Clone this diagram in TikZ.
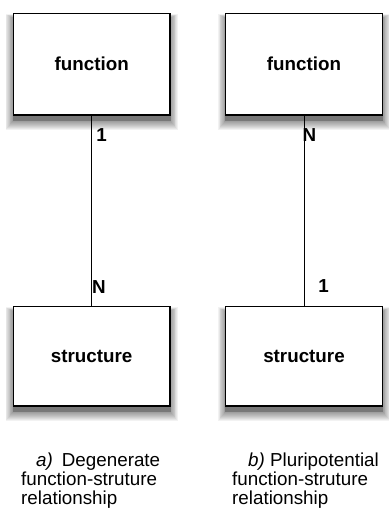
\documentclass[tikz,border=0pt]{standalone}
\usepackage{fontspec}
\setmainfont{Liberation Sans}
\usetikzlibrary{backgrounds}

\tikzset{
  entity/.style={draw=black, line width=1.2pt, fill=white,
    minimum width=156.6pt, inner sep=0pt,
    font=\fontsize{18.8}{19}\selectfont\bfseries},
  shadowlayer/.style={fill=black, draw=none},
  link/.style={draw=black, line width=0.9pt},
  card/.style={inner sep=0pt, font=\fontsize{18.8}{19}\selectfont\bfseries},
  caption/.style={inner sep=0pt, align=left, anchor=north west,
    font=\fontsize{18.8}{19.3}\selectfont}
}

\begin{document}
\begin{tikzpicture}[x=1pt, y=-1pt]
  \useasboundingbox (0,0) rectangle (388,513);

  % a) degenerate: one function, many structures
  \node[entity, minimum height=101.7pt] (fa) at (91.7,64.2) {function};
  \node[entity, minimum height=99.3pt]  (sa) at (91.7,356.3) {structure};
  \draw[link] (fa.south) -- (sa.north);
  \node[card] (ca1) at (101.5,135.5) {1};
  \node[card] (caN) at (99,287) {N};
  \node[caption] (capa) at (21,452.5)
    {\hspace*{15pt}\textit{a)}\hspace{9pt}Degenerate\\function-struture\\relationship};

  % b) pluripotential: one structure, many functions
  \node[entity, minimum height=101.7pt] (fb) at (304,64.2) {function};
  \node[entity, minimum height=99.3pt]  (sb) at (304,356.3) {structure};
  \draw[link] (fb.south) -- (sb.north);
  \node[card] (cbN) at (309.5,135) {N};
  \node[card] (cb1) at (323.5,286) {1};
  \node[caption] (capb) at (232,452.5)
    {\hspace*{16pt}\textit{b)} Pluripotential\\function-struture\\relationship};

  % soft drop shadows under the boxes, built from stacked translucent layers
  \begin{scope}[on background layer]
    \foreach \n in {fa,sa,fb,sb} {
      \fill[shadowlayer, opacity=0.25]
        ([yshift=-5pt]\n.south west) rectangle ([yshift=-5pt]\n.north east);
      \foreach \k in {1,...,9} {
        \fill[shadowlayer, opacity=0.05]
          ([xshift=-0.8*\k pt, yshift=-5pt-\k pt]\n.south west)
          rectangle ([xshift=0.8*\k pt, yshift=-5pt+0.4*\k pt]\n.north east);
      }
    }
  \end{scope}
\end{tikzpicture}
\end{document}
